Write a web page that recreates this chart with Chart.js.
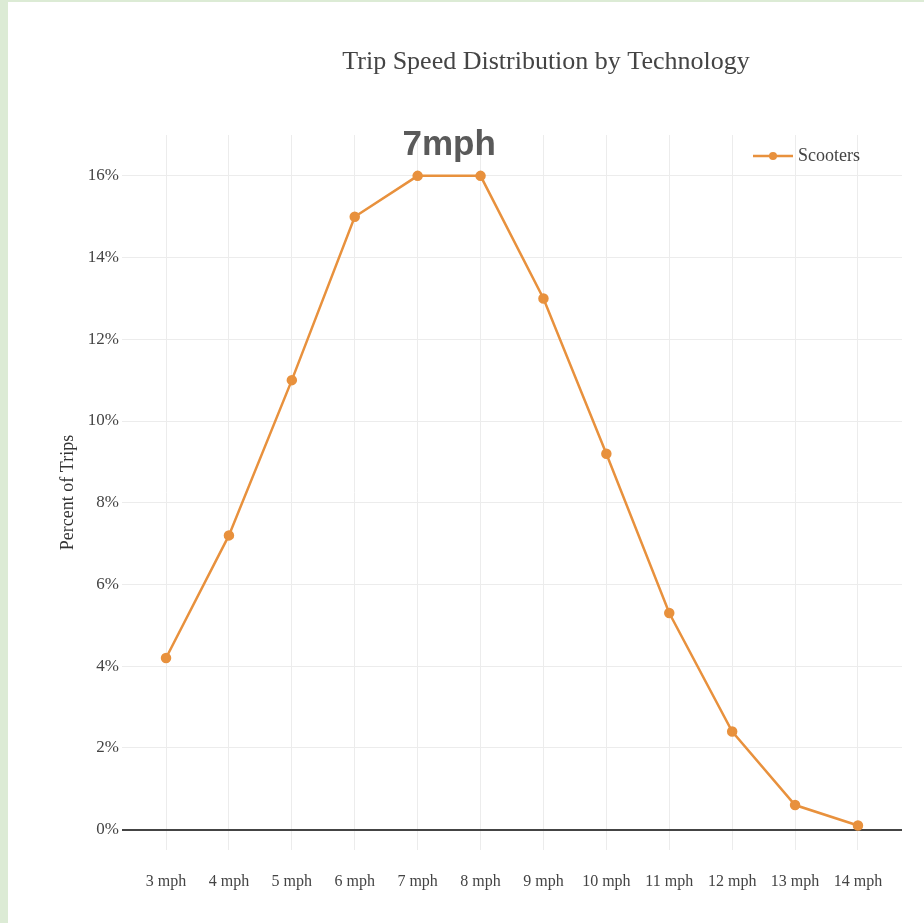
<!DOCTYPE html>
<html>
<head>
<meta charset="utf-8">
<script src="https://cdn.jsdelivr.net/npm/chart.js@4.4.1/dist/chart.umd.min.js"></script>
<style>
  html, body { margin: 0; padding: 0; background: #dcebd5; }
  #wrap { position: absolute; left: 8px; top: 2px; width: 916px; height: 921px; background: #fff; }
</style>
</head>
<body>
<div id="wrap"><canvas id="myChart" width="916" height="921"></canvas></div>
<script>
// chart data
const speeds = ['3 mph', '4 mph', '5 mph', '6 mph', '7 mph', '8 mph', '9 mph', '10 mph', '11 mph', '12 mph', '13 mph', '14 mph'];
const scooterPct = [4.2, 7.2, 11, 15, 16, 16, 13, 9.2, 5.3, 2.4, 0.6, 0.1];
const yTicks = [0, 2, 4, 6, 8, 10, 12, 14, 16];
const seriesName = 'Scooters';
const chartTitle = 'Trip Speed Distribution by Technology';
const yTitle = 'Percent of Trips';
// peak label sits between 7 mph and 8 mph
const peakLabel = { text: '7mph', x: 4.5, y: 16.75 };

const orange = '#e8913d';
const serif = "'Liberation Serif', 'Times New Roman', serif";

const titlePlugin = {
  id: 'topTitle',
  afterDraw(chart) {
    const ctx = chart.ctx;
    ctx.save();
    ctx.fillStyle = '#444';
    ctx.font = `26px ${serif}`;
    ctx.textAlign = 'center';
    ctx.textBaseline = 'middle';
    ctx.fillText(chartTitle, 538, 60);
    ctx.restore();
  }
};

const peakPlugin = {
  id: 'peakLabel',
  afterDatasetsDraw(chart) {
    const ctx = chart.ctx;
    const x = chart.scales.x.getPixelForValue(peakLabel.x);
    const y = chart.scales.y.getPixelForValue(peakLabel.y);
    ctx.save();
    ctx.fillStyle = '#5a5a5a';
    ctx.font = "bold 35px 'Liberation Sans', Arial, sans-serif";
    ctx.textAlign = 'center';
    ctx.textBaseline = 'middle';
    ctx.fillText(peakLabel.text, x, y);
    ctx.restore();
  }
};

// plotly style legend inside the plot, top right: line + dot + name
const legendPlugin = {
  id: 'plotLegend',
  afterDraw(chart) {
    const ctx = chart.ctx;
    const ds = chart.data.datasets[0];
    const area = chart.chartArea;
    const x0 = area.right - 149;
    const y0 = area.top + 21;
    ctx.save();
    ctx.strokeStyle = ds.borderColor;
    ctx.lineWidth = 2.5;
    ctx.beginPath();
    ctx.moveTo(x0, y0);
    ctx.lineTo(x0 + 40, y0);
    ctx.stroke();
    ctx.fillStyle = ds.borderColor;
    ctx.beginPath();
    ctx.arc(x0 + 20, y0, 4, 0, Math.PI * 2);
    ctx.fill();
    ctx.fillStyle = '#444';
    ctx.font = `18px ${serif}`;
    ctx.textBaseline = 'middle';
    ctx.fillText(ds.label, x0 + 45, y0);
    ctx.restore();
  }
};

const elem = document.getElementById('myChart').getContext('2d');
new Chart(elem, {
  type: 'line',
  data: {
    datasets: [
      {
        label: seriesName,
        data: scooterPct.map((v, i) => ({ x: i, y: v })),
        borderColor: orange,
        backgroundColor: orange,
        borderWidth: 2.5,
        pointRadius: 4,
        pointHoverRadius: 4,
        tension: 0
      }
    ]
  },
  options: {
    responsive: false,
    animation: false,
    layout: { padding: { left: 45, right: 22, top: 133, bottom: 23 } },
    plugins: {
      tooltip: { enabled: false },
      legend: { display: false }
    },
    scales: {
      x: {
        type: 'linear',
        min: -0.7,
        max: 11.7,
        afterBuildTicks: (axis) => { axis.ticks = speeds.map((s, i) => ({ value: i })); },
        afterFit: (axis) => { axis.height = 50; },
        border: { display: false },
        grid: { color: '#ececec', drawTicks: false },
        ticks: {
          padding: 22,
          maxRotation: 0,
          autoSkip: false,
          color: '#444',
          font: { family: serif, size: 16 },
          callback: (v) => speeds[v]
        }
      },
      y: {
        min: -0.5,
        max: 17,
        afterBuildTicks: (axis) => { axis.ticks = yTicks.map(v => ({ value: v })); },
        afterFit: (axis) => { axis.width = 69; },
        border: { display: false },
        grid: {
          drawTicks: false,
          color: (c) => c.tick && c.tick.value === 0 ? '#444' : '#ececec',
          lineWidth: (c) => c.tick && c.tick.value === 0 ? 2 : 1
        },
        ticks: {
          padding: 3,
          color: '#444',
          font: { family: serif, size: 17 },
          callback: (v) => v + '%'
        },
        title: {
          display: true,
          text: yTitle,
          color: '#333',
          font: { family: serif, size: 18 }
        }
      }
    }
  },
  plugins: [titlePlugin, peakPlugin, legendPlugin]
});
</script>
</body>
</html>
